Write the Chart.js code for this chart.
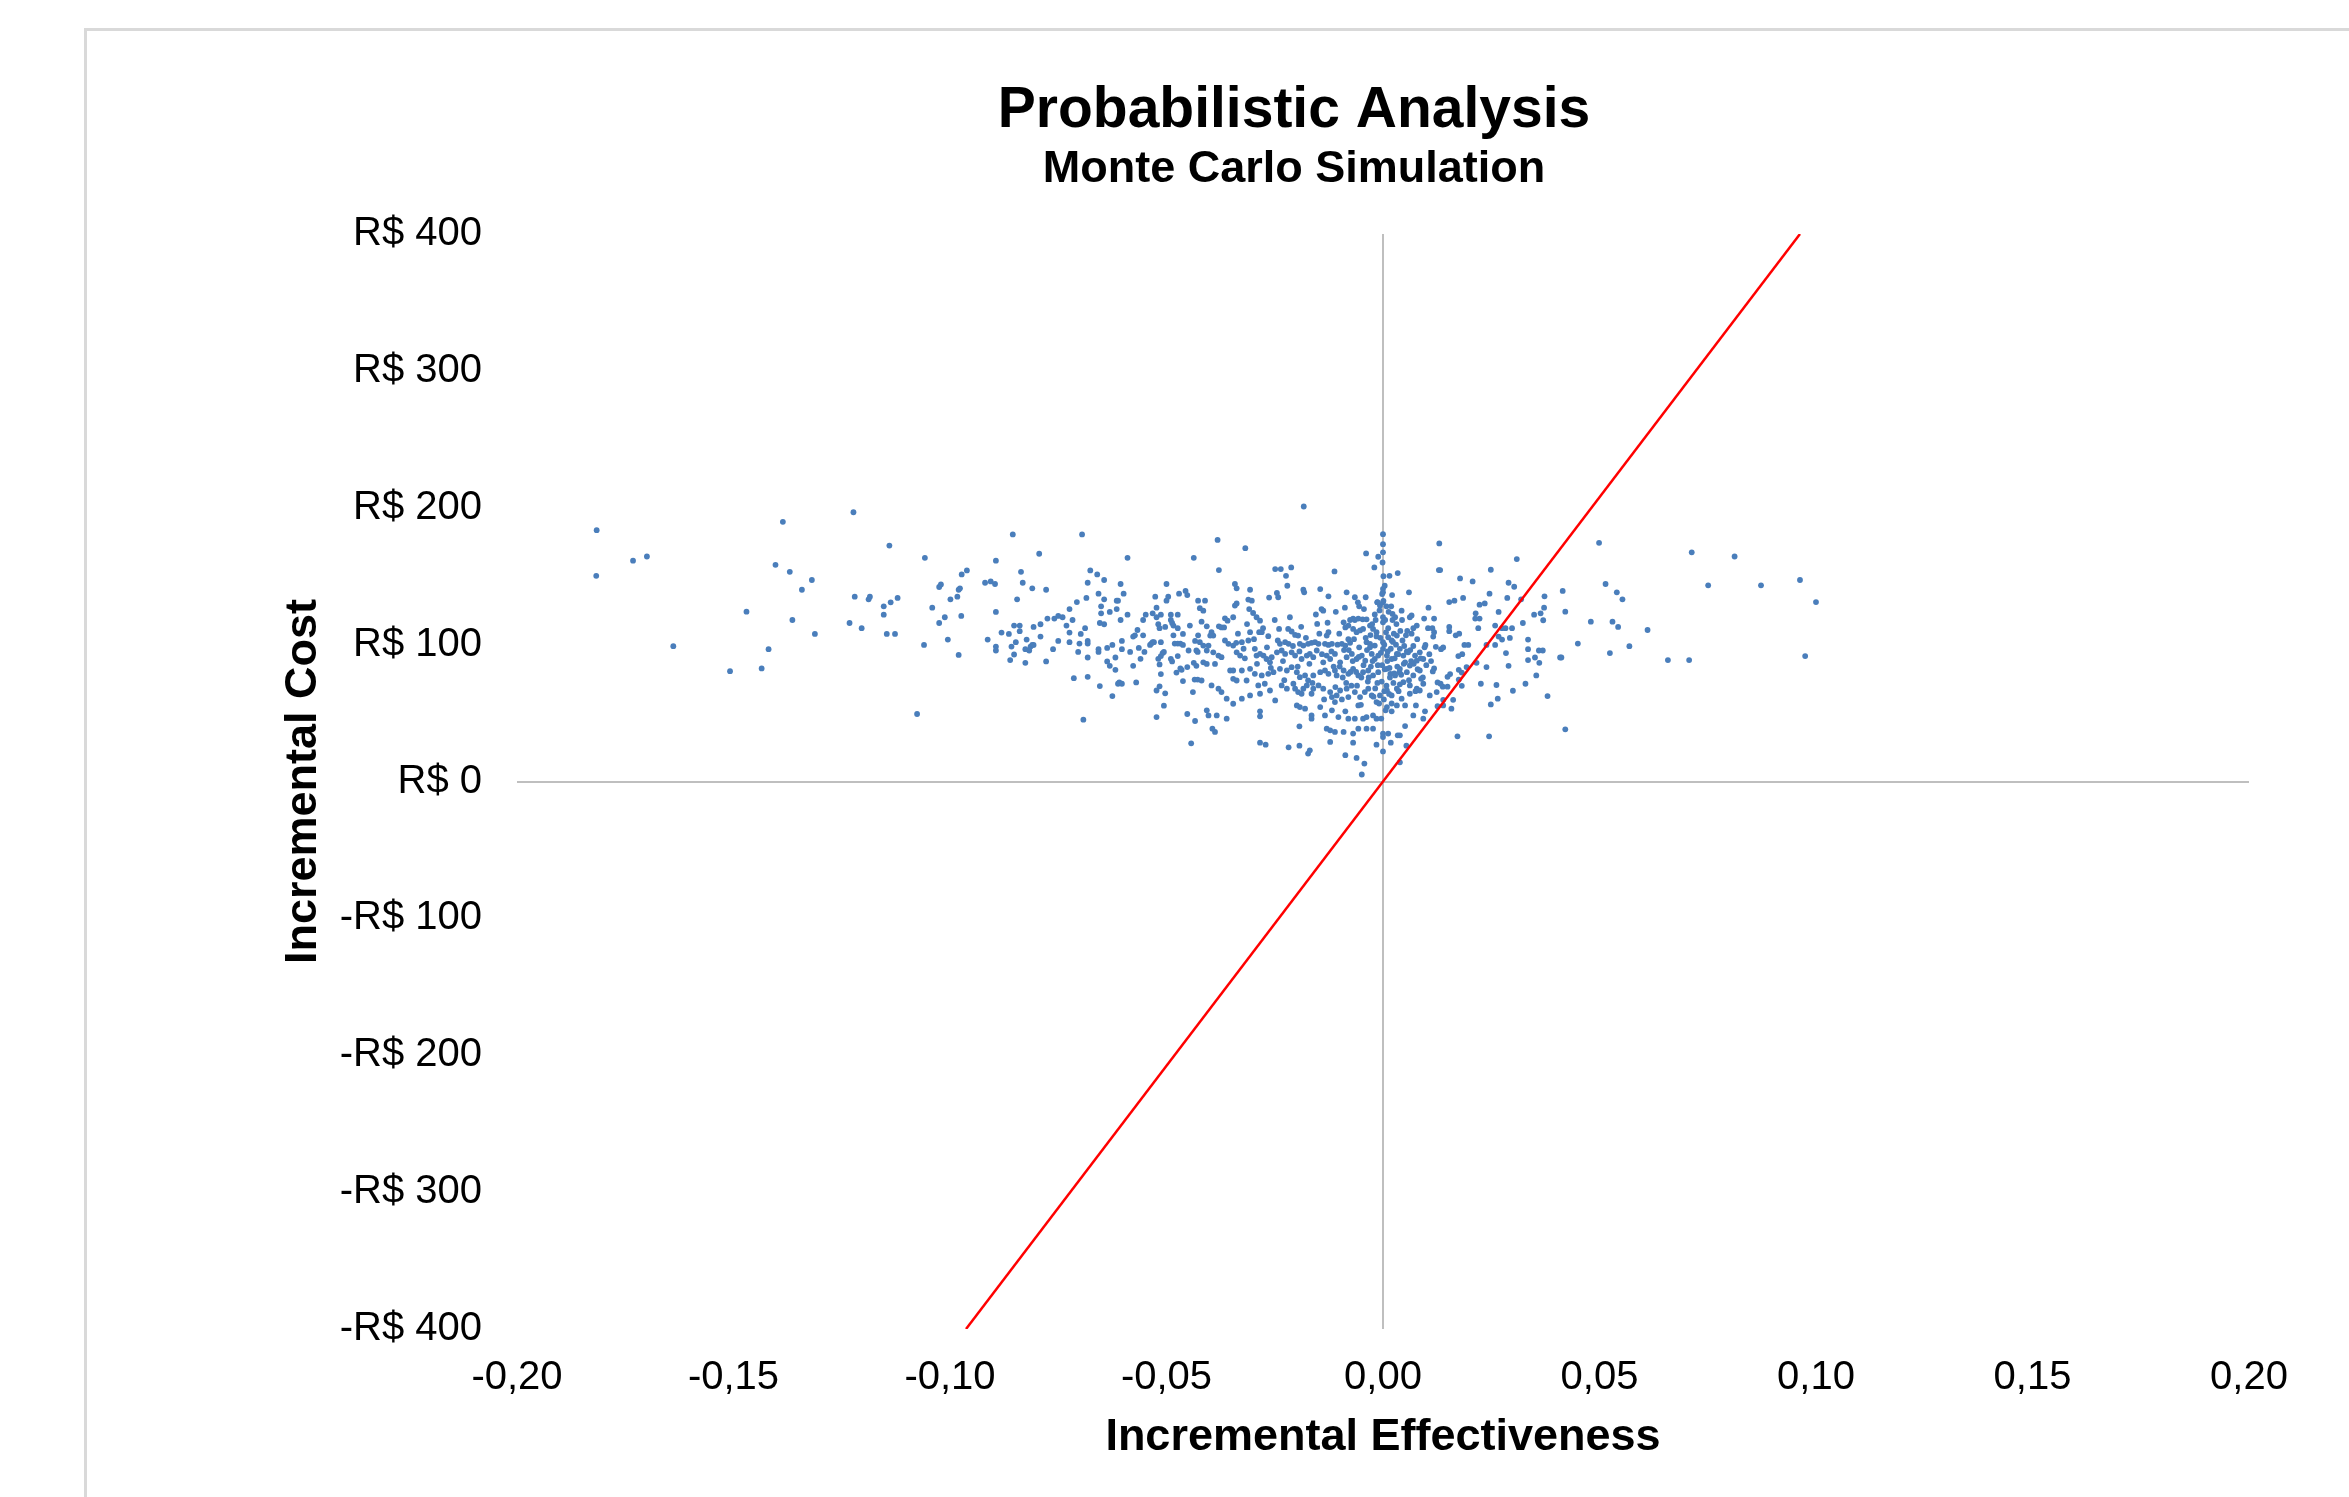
<!DOCTYPE html>
<html>
<head>
<meta charset="utf-8">
<script src="https://cdn.jsdelivr.net/npm/chart.js@4.4.1/dist/chart.umd.min.js"></script>
<style>
  html, body { margin: 0; padding: 0; background: #ffffff; width: 2349px; height: 1497px; overflow: hidden; }
  #frame { position: absolute; left: 84px; top: 28px; width: 2600px; height: 1700px; border-left: 3px solid #d9d9d9; border-top: 3px solid #d9d9d9; }
  #c { position: absolute; left: 84px; top: 28px; }
</style>
</head>
<body>
<div id="frame"></div>
<canvas id="c" width="2420" height="1469"></canvas>
<script>
// ---- tick labels ----
const xTickLabels = ['-0,20','-0,15','-0,10','-0,05','0,00','0,05','0,10','0,15','0,20'];
const yTickLabels = ['-R$ 400','-R$ 300','-R$ 200','-R$ 100','R$ 0','R$ 100','R$ 200','R$ 300','R$ 400'];

// ---- willingness-to-pay threshold line ----
const thresholdX = [-0.0963, 0.0963];
const thresholdY = [-400, 400];

// ---- Monte Carlo simulation points: [incremental effectiveness, incremental cost] ----
const pointsFarLeft = [
[-0.1816,183.6],[-0.1817,150.3],[-0.1732,161.3],[-0.1700,164.4],[-0.1639,98.9],[-0.1508,80.6],[-0.1470,124.1],[-0.1435,82.6],[-0.1419,96.7],[-0.1403,158.3],[-0.1386,189.7],[-0.1370,153.2],[-0.1364,118.0],[-0.1342,140.1],[-0.1319,147.2],[-0.1312,107.8],[-0.1232,115.8],[-0.1223,196.7],[-0.1220,135.0],[-0.1204,112.0],[-0.1188,133.1],[-0.1185,135.0],[-0.1153,128.0],[-0.1153,121.9],[-0.1140,172.4],[-0.1137,130.9],[-0.1146,107.8],[-0.1127,107.8],[-0.1121,134.1]
];
const pointsLeft = [
[-0.1058,163.4],[-0.1060,99.8],[-0.1076,49.3],[-0.1041,127.0],[-0.1025,115.8],[-0.1025,142.1],[-0.1021,144.0],[-0.1012,120.0],[-0.1005,103.7],[-0.0999,133.1],[-0.0983,135.0],[-0.0980,140.1],[-0.0977,141.1],[-0.0980,92.5],[-0.0973,151.3],[-0.0961,154.2],[-0.0974,121.0],
[-0.0919,145.2],[-0.0906,146.2],[-0.0896,144.3],[-0.0894,161.3],[-0.0855,180.5],[-0.0894,123.9],[-0.0913,103.7],[-0.0894,98.6],[-0.0894,95.7],[-0.0881,108.8],[-0.0864,107.8],[-0.0861,88.7],[-0.0858,98.6],[-0.0852,113.9],[-0.0852,92.8],[-0.0848,101.8],[-0.0845,133.1],[-0.0839,113.9],[-0.0839,109.8],[-0.0836,153.2],[-0.0832,145.2],[-0.0826,86.7],[-0.0826,96.7],[-0.0823,103.7],[-0.0817,95.7],[-0.0814,98.6],[-0.0810,99.8],[-0.0807,99.8],[-0.0810,141.1],[-0.0807,112.9],[-0.0794,166.4],[-0.0791,114.9],[-0.0791,105.9],[-0.0778,140.1],[-0.0778,87.7],[-0.0775,119.0],[-0.0762,96.7],[-0.0759,119.0],[-0.0750,121.0],[-0.0740,120.0],[-0.0750,102.7],[-0.0731,113.9],[-0.0724,126.0],[-0.0724,108.8],[-0.0724,101.8],[-0.0717,118.0],[-0.0714,75.5],[-0.0707,131.1],[-0.0704,94.7],[-0.0701,100.8],[-0.0698,107.8],[-0.0695,180.5],[-0.0692,45.2],[-0.0688,112.0],[-0.0685,134.1],[-0.0682,145.2],[-0.0682,102.7],[-0.0682,100.8],[-0.0682,90.6],[-0.0682,76.5],[-0.0676,154.2],[-0.0660,151.3],[-0.0657,137.2],[-0.0657,96.7],[-0.0657,94.7],[-0.0654,69.7],[-0.0651,128.0],[-0.0651,122.9],[-0.0654,115.8],[-0.0644,114.9],[-0.0644,147.2],[-0.0644,133.1],[-0.0637,97.6],[-0.0637,87.7],[-0.0631,84.5],[-0.0631,123.9],[-0.0625,99.8],[-0.0625,62.4],[-0.0618,90.6],[-0.0618,81.6],[-0.0615,132.1],[-0.0612,132.1],[-0.0615,126.0],[-0.0612,71.4],[-0.0609,72.4],[-0.0603,71.4],[-0.0606,144.3],[-0.0606,118.0],[-0.0603,102.7],[-0.0603,96.7],[-0.0599,137.2],[-0.0590,163.4],[-0.0590,121.9],[-0.0584,94.7],[-0.0577,105.9],[-0.0573,106.8],[-0.0577,84.5],[-0.0570,72.4],[-0.0567,110.7],[-0.0564,97.6],[-0.0560,89.6],[-0.0554,106.8],[-0.0554,118.0],[-0.0551,94.7],[-0.0548,121.9],[-0.0538,99.8],[-0.0535,100.8],[-0.0532,101.8],[-0.0529,101.8],[-0.0532,122.9],[-0.0526,135.0],[-0.0523,127.0],[-0.0523,120.0],[-0.0519,114.9],[-0.0516,112.0],[-0.0513,121.9],[-0.0513,101.8],[-0.0519,89.6],[-0.0516,85.5],[-0.0513,91.6],[-0.0509,93.8],[-0.0506,94.7],[-0.0513,78.5],[-0.0516,69.5],[-0.0523,66.5],[-0.0503,64.4],[-0.0506,55.4],[-0.0523,47.1],[-0.0503,112.9],[-0.0500,144.3],[-0.0500,132.1],[-0.0496,135.0],[-0.0490,121.9],[-0.0490,118.0],[-0.0487,115.8],[-0.0484,113.9],[-0.0490,89.6],[-0.0487,87.7],[-0.0484,106.8],[-0.0481,100.8],[-0.0474,100.8],[-0.0468,100.8],[-0.0462,99.8],[-0.0474,121.9],[-0.0474,112.0],[-0.0471,137.2],[-0.0474,91.6],[-0.0477,79.6],[-0.0468,82.6],[-0.0465,81.6],[-0.0462,107.8],[-0.0462,73.4],[-0.0456,139.2],[-0.0452,136.2],[-0.0452,83.6],[-0.0452,49.3],[-0.0449,95.7],[-0.0446,113.9],[-0.0439,65.3],[-0.0443,27.9],[-0.0437,163.4],[-0.0434,102.7],[-0.0434,44.2],[-0.0431,95.7],[-0.0428,94.7],[-0.0437,86.7],[-0.0431,84.5],[-0.0435,74.5],[-0.0428,74.5],[-0.0427,132.1],[-0.0427,106.8]
];
const pointsCenterLeft = [
[-0.0183,200.9],[-0.0382,176.5],[-0.0318,170.5],[0.0000,180.7],[0.0000,173.4],[0.0000,167.4],[-0.0039,166.6],[-0.0011,164.2],[-0.0020,156.4],[-0.0379,154.5],[-0.0249,155.2],[-0.0236,155.2],[-0.0212,156.4],[-0.0224,150.3],[-0.0221,143.0],[-0.0112,153.5],[0.0015,150.3],[0.0034,152.3],
[-0.0342,144.3],[-0.0338,141.1],[-0.0307,140.1],[-0.0184,140.1],[-0.0182,138.2],[-0.0145,140.6],[-0.0084,138.2],[0.0000,140.8],[0.0000,138.2],[0.0021,136.2],[-0.0411,132.1],[-0.0423,126.6],[-0.0415,124.8],[-0.0311,132.9],[-0.0303,132.1],[-0.0245,137.7],[-0.0242,134.6],[-0.0263,134.4],[-0.0126,135.3],[-0.0065,134.6],[-0.0058,130.9],[-0.0055,128.0],[-0.0040,134.6],[-0.0013,130.9],[-0.0007,128.5],[0.0000,130.9],[-0.0342,128.5],[-0.0338,130.1],[-0.0309,126.0],[-0.0300,123.1],[-0.0142,126.0],[-0.0138,124.8],[0.0022,122.4],[0.0028,120.0],
[-0.0365,119.2],[-0.0359,117.5],[-0.0346,120.0],[-0.0292,120.0],[-0.0284,117.5],[-0.0419,116.8],[-0.0076,118.0],[-0.0069,119.0],[-0.0057,119.0],[-0.0047,118.5],[-0.0038,118.5],[0.0000,120.0],[0.0000,116.3],[-0.0152,115.1],
[-0.0407,113.4],[-0.0396,109.1],[-0.0392,106.6],[-0.0379,113.4],[-0.0373,112.6],[-0.0367,112.6],[-0.0240,111.5],[-0.0219,111.5],[-0.0211,109.6],[-0.0203,107.1],[-0.0196,106.6],[-0.0286,109.1],[-0.0280,109.1],[-0.0130,106.6],[-0.0126,109.1],[-0.0091,116.3],[-0.0087,112.6],[-0.0080,113.9],[-0.0069,111.5],[-0.0061,109.1],[-0.0053,110.4],[-0.0046,111.5],[-0.0030,113.9],[-0.0023,111.5],[-0.0015,109.1],[0.0012,105.4],[0.0020,103.0],[0.0032,106.6],
[-0.0423,101.8],[-0.0415,99.3],[-0.0403,99.3],[-0.0399,106.6],[-0.0365,103.0],[-0.0357,100.6],[-0.0346,99.3],[-0.0339,101.3],[-0.0326,101.8],[-0.0311,103.0],[-0.0307,109.1],[-0.0265,106.2],[-0.0238,100.6],[-0.0226,101.8],[-0.0218,100.6],[-0.0192,100.6],[-0.0184,99.3],[-0.0173,100.6],[-0.0165,101.3],[-0.0157,101.8],[-0.0149,100.6],[-0.0134,100.6],[-0.0126,99.8],[-0.0118,100.6],[-0.0095,100.6],[-0.0087,99.3],[-0.0076,101.3],[-0.0038,101.8],[-0.0030,100.6],[-0.0019,99.3],[0.0000,101.8],[0.0000,96.9],
[-0.0407,95.7],[-0.0392,94.4],[-0.0380,92.0],[-0.0373,90.8],[-0.0338,94.4],[-0.0330,92.0],[-0.0319,90.0],[-0.0296,96.9],[-0.0292,92.0],[-0.0284,93.2],[-0.0276,92.0],[-0.0269,89.5],[-0.0261,87.1],[-0.0257,90.8],[-0.0245,94.4],[-0.0234,95.7],[-0.0226,93.2],[-0.0211,94.4],[-0.0203,92.0],[-0.0193,95.0],[-0.0188,89.5],[-0.0176,92.0],[-0.0169,93.2],[-0.0161,90.8],[-0.0153,95.7],[-0.0138,87.1],[-0.0130,92.0],[-0.0122,89.5],[-0.0111,93.2],[-0.0099,87.1],[-0.0084,90.8],[-0.0072,93.2],[-0.0061,89.5],[-0.0049,92.0],[-0.0041,88.3],[-0.0026,93.2],[-0.0019,89.5],[-0.0011,92.0],[0.0009,92.0],[0.0020,89.5],[0.0032,93.2],
[-0.0415,87.1],[-0.0407,85.9],[-0.0388,85.9],[-0.0353,81.1],[-0.0346,81.1],[-0.0326,81.1],[-0.0307,82.3],[-0.0296,78.7],[-0.0280,77.5],[-0.0265,78.7],[-0.0253,79.9],[-0.0238,82.3],[-0.0222,81.1],[-0.0211,83.5],[-0.0199,79.9],[-0.0192,76.2],[-0.0180,77.5],[-0.0173,73.9],[-0.0161,77.5],[-0.0145,79.9],[-0.0134,81.1],[-0.0126,78.7],[-0.0111,81.1],[-0.0107,77.5],[-0.0091,81.1],[-0.0080,78.7],[-0.0069,82.3],[-0.0057,77.5],[-0.0046,79.9],[-0.0034,81.1],[-0.0023,77.5],[-0.0011,79.9],[0.0009,82.3],[0.0017,78.7],[0.0028,77.5],[0.0038,79.9],
[-0.0419,73.8],[-0.0396,70.2],[-0.0380,67.8],[-0.0373,65.3],[-0.0346,75.0],[-0.0338,73.8],[-0.0315,73.8],[-0.0361,60.5],[-0.0346,56.8],[-0.0326,60.5],[-0.0307,62.9],[-0.0288,70.2],[-0.0273,71.4],[-0.0284,64.1],[-0.0261,66.5],[-0.0249,59.2],[-0.0234,70.2],[-0.0222,67.8],[-0.0207,71.4],[-0.0203,67.8],[-0.0196,65.3],[-0.0188,64.1],[-0.0184,67.8],[-0.0176,70.2],[-0.0165,64.1],[-0.0161,67.8],[-0.0149,70.2],[-0.0138,67.8],[-0.0122,65.3],[-0.0118,61.7],[-0.0107,62.9],[-0.0099,66.5],[-0.0084,67.8],[-0.0080,61.7],[-0.0065,65.3],[-0.0053,61.7],[-0.0042,65.3],[-0.0034,67.8],[-0.0026,62.9],[-0.0015,58.0],[-0.0007,62.9],[0.0009,66.5],[0.0020,62.9],[0.0032,67.8],
[-0.0407,52.0],[-0.0403,48.3],[-0.0384,48.3],[-0.0361,45.9],[-0.0284,51.3],[-0.0284,47.6],[-0.0199,55.6],[-0.0192,54.4],[-0.0180,53.2],[-0.0165,45.9],[-0.0165,48.3],[-0.0145,54.4],[-0.0134,48.3],[-0.0118,52.0],[-0.0111,58.0],[-0.0103,47.1],[-0.0087,51.3],[-0.0080,45.9],[-0.0065,45.9],[-0.0057,55.6],[-0.0046,45.9],[-0.0038,47.1],[-0.0023,48.3],[-0.0015,45.9],[0.0009,54.4],[0.0020,51.3],[0.0032,55.6],
[-0.0394,38.6],[-0.0388,36.2],[-0.0193,40.3],[-0.0130,38.6],[-0.0122,37.4],[-0.0111,36.2],[-0.0091,36.2],[-0.0069,35.0],[-0.0057,38.6],[-0.0038,38.6],[-0.0023,38.6],[0.0000,35.0],[0.0012,35.0],[-0.0284,28.4],[-0.0271,26.9],[-0.0218,25.0],[-0.0193,26.2],[-0.0173,20.4],[-0.0169,22.8],[-0.0122,28.9],[-0.0069,28.4],[-0.0015,26.9],[0.0000,32.5],[0.0000,22.0],[-0.0087,19.2],[-0.0061,17.2],[-0.0043,13.1],[-0.0049,5.1],[0.0018,28.4],[0.0034,33.7]
];
const pointsCenter = [
[-0.0008,125],[0.0005,118],[0.0012,112],[-0.0015,106],[0.0003,100],[0.0018,97],[-0.0005,94],[0.0010,88],[-0.0012,85],[0.0004,82],[0.0016,76],[-0.0003,73],[0.0008,70],[-0.0018,68],[0.0014,64],[0.0002,60],[-0.0009,57],[0.0020,57],[0.0006,52],[-0.0004,46],
[0.0025,108],[0.0030,100],[0.0027,90],[0.0033,84],[0.0024,72],[0.0036,66],[0.0040,110],[0.0045,103],[0.0042,78],[0.0048,86],
[-0.0025,115],[-0.0030,98],[-0.0028,84],[-0.0035,73],[-0.0022,62],[-0.0040,105],[-0.0045,85],[-0.0050,76],[-0.0055,98],[-0.0060,70],
[-0.0065,118],[-0.0070,88],[-0.0075,80],[-0.0080,104],[-0.0085,72],[-0.0090,96],[-0.0095,60],[-0.0100,84],[-0.0105,100],[-0.0110,69],
[0.0055,95],[0.0060,74],[0.0065,88],[0.0070,99],[0.0075,66],[0.0080,82],[0.0087,90],[0.0092,76],[0.0100,85],[0.0107,93],
[0.0001,132],[-0.0002,137],[0.0004,143],[0.0001,150],[-0.0001,160],[0.0008,128],[-0.0013,131],[0.0013,124],[0.0022,118],[-0.0019,122]
];
const pointsCore = [
[-0.0335,108],[-0.0322,97],[-0.0314,115],[-0.0298,104],[-0.0291,86],[-0.0277,112],[-0.0268,98],[-0.0259,83],[-0.0250,118],[-0.0243,103],[-0.0231,88],[-0.0228,74],[-0.0215,120],[-0.0208,99],[-0.0197,84],[-0.0189,113],[-0.0178,105],[-0.0170,86],[-0.0163,72],[-0.0155,122],[-0.0147,108],[-0.0141,93],[-0.0136,60],[-0.0128,116],[-0.0119,95],[-0.0114,84],[-0.0109,124],[-0.0101,108],[-0.0093,76],[-0.0088,127],[-0.0079,96],[-0.0073,70],[-0.0067,104],[-0.0062,80],[-0.0056,91],[-0.0051,56],[-0.0044,126],[-0.0037,96],[-0.0033,76],[-0.0029,107],[-0.0024,88],[-0.0017,118],[-0.0013,72],[-0.0006,105],[-0.0002,85],[0.0003,66],[0.0007,109],[0.0011,95],[0.0015,83],[0.0019,128],[0.0023,102],[0.0026,79],[0.0031,115],[0.0035,93],[0.0039,71],[0.0044,118],[0.0049,99],[0.0056,110],[0.0063,96],[0.0071,86],[0.0079,104],[0.0088,75],[0.0096,98],[0.0104,112],[0.0111,88]
];
const pointsRight = [
[0.0130,173.9],[0.0129,154.5],[0.0132,154.5],[0.0309,162.5],[0.0249,154.7],[0.0178,148.4],[0.0207,146.2],[0.0290,145.2],[0.0303,142.3],[0.0060,138.2],[0.0185,134.1],[0.0246,137.2],[0.0287,134.1],[0.0319,133.1],[0.0373,135.3],[0.0153,131.1],[0.0165,132.1],[0.0223,129.2],[0.0235,130.1],[0.0105,127.0],[0.0043,124.8],[0.0267,123.9],[0.0214,122.9],[0.0349,121.9],[0.0364,122.9],[0.0372,127.0],[0.0062,120.0],[0.0066,121.3],[0.0095,119.0],[0.0118,119.0],[0.0213,119.0],[0.0223,119.0],[0.0323,115.8],[0.0370,117.8],[0.0078,113.9],[0.0070,112.0],[0.0114,112.0],[0.0118,109.1],[0.0116,105.9],[0.0153,112.9],[0.0153,109.8],[0.0220,112.0],[0.0259,113.9],[0.0275,112.0],[0.0283,112.0],[0.0298,112.0],[0.0053,106.8],[0.0066,108.0],[0.0168,106.8],[0.0176,108.0],[0.0267,105.9],[0.0275,103.7],[0.0293,104.9],[0.0335,103.7],[0.0098,99.8],[0.0122,98.4],[0.0134,96.7],[0.0139,97.9],[0.0188,99.8],[0.0197,99.8],[0.0239,99.8],[0.0259,99.8],[0.0335,96.7],[0.0360,95.7],[0.0369,95.7],[0.0284,93.8],[0.0409,90.6],[0.0183,93.0],[0.0174,91.6],[0.0351,90.6],[0.0335,88.7],[0.0361,86.7],[0.0039,96.9],[0.0047,92.0],[0.0058,94.4],[0.0074,92.0],[0.0085,94.4],[0.0051,87.1],[0.0062,84.7],[0.0078,88.3],[0.0093,89.5],[0.0216,86.7],[0.0239,83.6],[0.0290,84.5],[0.0118,82.6],[0.0115,80.4],[0.0155,78.5],[0.0149,76.5],[0.0175,81.6],[0.0182,79.6],[0.0193,83.6],[0.0354,77.5],[0.0039,82.3],[0.0055,79.9],[0.0070,77.5],[0.0085,81.1],[0.0047,72.6],[0.0062,70.2],[0.0078,67.8],[0.0093,71.4],[0.0126,72.4],[0.0133,71.4],[0.0138,69.3],[0.0149,69.3],[0.0175,74.5],[0.0182,69.9],[0.0226,71.4],[0.0262,70.5],[0.0300,66.3],[0.0329,71.4],[0.0380,62.4],[0.0124,65.3],[0.0108,62.9],[0.0085,66.5],[0.0062,64.1],[0.0043,60.5],[0.0051,55.6],[0.0139,59.7],[0.0162,59.7],[0.0126,55.0],[0.0158,53.2],[0.0139,55.6],[0.0265,60.5],[0.0249,56.3],[0.0076,55.6],[0.0097,51.3],[0.0093,45.9],[0.0070,48.3],[0.0051,40.5],[0.0172,33.0],[0.0245,33.0],[0.0054,26.2],[0.0039,14.0],[0.0039,33.7]
];
const pointsFarRight = [
[0.0499,174.4],[0.0713,167.4],[0.0812,164.4],[0.0963,147.2],[0.0751,143.3],[0.0873,143.3],[0.1000,131.1],[0.0975,91.6],[0.0415,139.2],[0.0514,144.3],[0.0540,138.2],[0.0553,133.1],[0.0421,124.1],[0.0480,116.8],[0.0530,116.8],[0.0543,112.9],[0.0611,110.7],[0.0450,100.8],[0.0524,93.8],[0.0569,98.9],[0.0412,90.6],[0.0658,88.7],[0.0707,88.7],[0.0421,38.1]
];

const simulationPoints = [].concat(pointsFarLeft, pointsLeft, pointsCenterLeft, pointsCenter, pointsCore, pointsRight, pointsFarRight)
  .map(p => ({ x: p[0], y: p[1] }));
const thresholdPoints = thresholdX.map((x, i) => ({ x: x, y: thresholdY[i] }));

const FONT = '"Liberation Sans", Arial, Helvetica, sans-serif';
const isZero = v => Math.abs(v) < 1e-9;

new Chart(document.getElementById('c'), {
  type: 'scatter',
  data: {
    datasets: [
      {
        label: 'Threshold',
        type: 'line',
        data: thresholdPoints,
        borderColor: '#ff0000',
        borderWidth: 2.5,
        pointRadius: 0,
        fill: false,
        order: 0
      },
      {
        label: 'Simulations',
        data: simulationPoints,
        backgroundColor: '#4a7ebb',
        pointBackgroundColor: '#4a7ebb',
        pointBorderWidth: 0,
        pointRadius: 2.9,
        pointHoverRadius: 2.9,
        order: 1
      }
    ]
  },
  options: {
    responsive: false,
    animation: false,
    devicePixelRatio: 1,
    events: [],
    layout: { padding: { left: 255, top: 0, right: 255, bottom: 32 } },
    plugins: {
      legend: { display: false },
      tooltip: { enabled: false },
      title: {
        display: true,
        text: 'Probabilistic Analysis',
        color: '#000000',
        font: { family: FONT, size: 57, weight: 'bold', lineHeight: 1.2 },
        padding: { top: 49, bottom: 0 }
      },
      subtitle: {
        display: true,
        text: 'Monte Carlo Simulation',
        color: '#000000',
        font: { family: FONT, size: 45, weight: 'bold', lineHeight: 1.2 },
        padding: { top: -3, bottom: 37.6 }
      }
    },
    scales: {
      x: {
        type: 'linear',
        position: 'bottom',
        min: -0.2,
        max: 0.2,
        afterFit: s => { s.height = 136; },
        ticks: {
          stepSize: 0.05,
          padding: 25,
          color: '#000000',
          font: { family: FONT, size: 40, lineHeight: 1.2 },
          maxRotation: 0,
          autoSkip: false,
          callback: (v, i) => xTickLabels[i]
        },
        grid: {
          drawTicks: false,
          color: c => (c.tick && isZero(c.tick.value)) ? '#bfbfbf' : 'rgba(0,0,0,0)',
          lineWidth: 2
        },
        border: { display: false },
        title: {
          display: true,
          text: 'Incremental Effectiveness',
          color: '#000000',
          font: { family: FONT, size: 45, weight: 'bold', lineHeight: 1.2 },
          padding: { top: 0, bottom: 0 }
        }
      },
      y: {
        type: 'linear',
        position: 'left',
        min: -400,
        max: 400,
        afterFit: s => { s.width = 178; },
        ticks: {
          stepSize: 100,
          padding: 35,
          color: '#000000',
          font: { family: FONT, size: 40, lineHeight: 1.2 },
          autoSkip: false,
          callback: (v, i) => yTickLabels[i]
        },
        grid: {
          drawTicks: false,
          color: c => (c.tick && isZero(c.tick.value)) ? '#bfbfbf' : 'rgba(0,0,0,0)',
          lineWidth: 2
        },
        border: { display: false },
        title: {
          display: true,
          text: 'Incremental Cost',
          color: '#000000',
          font: { family: FONT, size: 45, weight: 'bold', lineHeight: 1.2 },
          padding: { top: -62, bottom: 0 }
        }
      }
    }
  }
});
</script>
</body>
</html>
